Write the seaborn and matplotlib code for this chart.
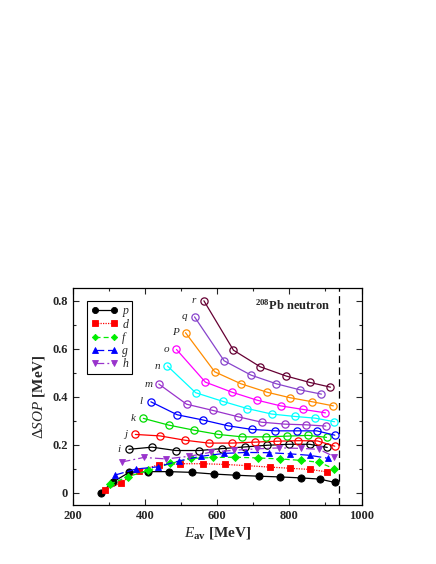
import numpy as np
import pandas as pd
import matplotlib
matplotlib.use("Agg")
import matplotlib.pyplot as plt
from matplotlib.ticker import MultipleLocator
import seaborn as sns

# ---------------- data ----------------
p_E = [277, 312, 356, 409, 467, 529, 590, 653, 715, 774, 831, 884, 926]
p_V = [0.0, 0.046, 0.085, 0.088, 0.088, 0.085, 0.078, 0.073, 0.069, 0.066, 0.062, 0.057, 0.043]

d_E = [289, 333, 383, 438, 497, 560, 621, 683, 745, 803, 858, 905]
d_V = [0.011, 0.042, 0.092, 0.117, 0.121, 0.121, 0.118, 0.113, 0.107, 0.102, 0.097, 0.087]

f_E = [303, 352, 409, 469, 528, 588, 650, 714, 774, 832, 883, 925]
f_V = [0.036, 0.067, 0.093, 0.122, 0.143, 0.147, 0.148, 0.145, 0.141, 0.135, 0.127, 0.099]

g_E = [317, 375, 435, 495, 555, 619, 680, 743, 803, 856, 906]
g_V = [0.074, 0.099, 0.108, 0.133, 0.152, 0.164, 0.168, 0.167, 0.162, 0.156, 0.144]

h_E = [335, 396, 459, 522, 583, 646, 710, 772, 831, 882, 925]
h_V = [0.128, 0.147, 0.141, 0.152, 0.169, 0.177, 0.183, 0.187, 0.185, 0.181, 0.150]

i_E = [355, 419, 485, 550, 613, 677, 739, 799, 856, 905]
i_V = [0.181, 0.190, 0.176, 0.176, 0.184, 0.191, 0.198, 0.202, 0.202, 0.189]

j_E = [373, 441, 510, 576, 641, 705, 767, 824, 878, 926]
j_V = [0.243, 0.237, 0.219, 0.207, 0.207, 0.211, 0.215, 0.217, 0.216, 0.194]

k_E = [395, 465, 535, 603, 669, 734, 794, 852, 903]
k_V = [0.310, 0.282, 0.261, 0.243, 0.233, 0.233, 0.236, 0.239, 0.231]

l_E = [416, 489, 561, 630, 696, 761, 821, 876, 926]
l_V = [0.379, 0.325, 0.303, 0.279, 0.264, 0.258, 0.258, 0.258, 0.240]

m_E = [438, 515, 588, 657, 723, 787, 847, 901]
m_V = [0.453, 0.369, 0.343, 0.317, 0.294, 0.286, 0.283, 0.278]

n_E = [462, 540, 615, 683, 751, 815, 871, 925]
n_V = [0.528, 0.417, 0.381, 0.351, 0.328, 0.318, 0.311, 0.296]

o_E = [487, 567, 641, 710, 776, 839, 900]
o_V = [0.597, 0.461, 0.419, 0.386, 0.362, 0.347, 0.333]

P_E = [512, 593, 666, 738, 802, 864, 922]
P_V = [0.667, 0.504, 0.454, 0.419, 0.396, 0.379, 0.362]

q_E = [537, 619, 694, 764, 829, 889]
q_V = [0.733, 0.550, 0.490, 0.454, 0.429, 0.411]

r_E = [563, 645, 719, 792, 856, 914]
r_V = [0.800, 0.594, 0.525, 0.486, 0.460, 0.440]

filled_names = ["p", "d", "f", "g", "h"]
open_names = ["i", "j", "k", "l", "m", "n", "o", "P", "q", "r"]
threshold_E = 938
x_ticks = [200, 400, 600, 800, 1000]
y_ticks = [0, 0.2, 0.4, 0.6, 0.8]
y_tick_labels = ["0", "0.2", "0.4", "0.6", "0.8"]

series = {
    "p": (p_E, p_V), "d": (d_E, d_V), "f": (f_E, f_V), "g": (g_E, g_V), "h": (h_E, h_V),
    "i": (i_E, i_V), "j": (j_E, j_V), "k": (k_E, k_V), "l": (l_E, l_V), "m": (m_E, m_V),
    "n": (n_E, n_V), "o": (o_E, o_V), "P": (P_E, P_V), "q": (q_E, q_V), "r": (r_E, r_V),
}

# ---------------- styles ----------------
filled_style = {
    "p": dict(color="#000000", marker="o", ls="-", ms=5.2),
    "d": dict(color="#ff0000", marker="s", ls=(0, (1, 1)), ms=4.4),
    "f": dict(color="#00ee00", marker="D", ls=(0, (4, 2.5)), ms=3.8),
    "g": dict(color="#0000ff", marker="^", ls=(0, (7, 3)), ms=5.0),
    "h": dict(color="#9933cc", marker="v", ls=(0, (7, 2.5, 1.5, 2.5)), ms=5.0),
}
open_colors = {
    "i": "#000000", "j": "#ff0000", "k": "#00dd00", "l": "#0000ff", "m": "#9933cc",
    "n": "#00ffff", "o": "#ff00ff", "P": "#ff8c00", "q": "#8844cc", "r": "#660033",
}

sns.set_style("ticks")
plt.rcParams["font.family"] = ["Liberation Serif", "DejaVu Serif"]
plt.rcParams["mathtext.fontset"] = "custom"
plt.rcParams["mathtext.rm"] = "Liberation Serif"
plt.rcParams["mathtext.it"] = "Liberation Serif:italic"
plt.rcParams["mathtext.bf"] = "Liberation Serif:bold"

fig = plt.figure(figsize=(4.36, 5.64), dpi=100)
ax = fig.add_axes([73 / 436, 1 - 505 / 564, (361.5 - 73) / 436, (505 - 288.3) / 564])

handles = []
for name in filled_names:
    E, V = series[name]
    st = filled_style[name]
    df = pd.DataFrame({"E": E, "V": V})
    n_before = len(ax.lines)
    sns.lineplot(data=df, x="E", y="V", ax=ax, color=st["color"], linestyle=st["ls"],
                 linewidth=0.9, marker=st["marker"], markersize=st["ms"],
                 markerfacecolor=st["color"], markeredgecolor=st["color"],
                 markeredgewidth=0.6, legend=False, zorder=4)
    handles.append(ax.lines[n_before])

for name in open_names:
    E, V = series[name]
    c = open_colors[name]
    df = pd.DataFrame({"E": E, "V": V})
    sns.lineplot(data=df, x="E", y="V", ax=ax, color=c, linestyle="-", linewidth=0.9,
                 marker="o", markersize=5.2, markerfacecolor="none",
                 markeredgecolor=c, markeredgewidth=0.9, legend=False, zorder=3)
    ax.annotate(name, xy=(E[0], V[0]), xytext=(-10, 0), textcoords="offset pixels",
                ha="center", va="center", fontsize=8, fontstyle="italic")

ax.axvline(threshold_E, color="black", linestyle=(0, (6, 3.5)), linewidth=0.9, zorder=2)

ax.set_xlim(200, 1000)
ax.set_ylim(-0.051, 0.852)
ax.set_xticks(x_ticks)
ax.set_yticks(y_ticks)
ax.set_yticklabels(y_tick_labels)
ax.xaxis.set_minor_locator(MultipleLocator(100))
ax.yaxis.set_minor_locator(MultipleLocator(0.1))
ax.tick_params(which="both", direction="in", top=True, right=True, width=0.8)
ax.tick_params(which="major", length=4, labelsize=9)
ax.tick_params(which="minor", length=2.5)
for lab in ax.get_xticklabels() + ax.get_yticklabels():
    lab.set_fontweight("bold")
for sp in ax.spines.values():
    sp.set_linewidth(0.9)
    sp.set_color("black")

ax.set_xlabel(r"$\mathit{E}_{\mathbf{av}}$ [MeV]", fontsize=11, fontweight="bold", labelpad=2)
ax.set_ylabel(r"$\Delta\mathit{SOP}$ [MeV]", fontsize=11, fontweight="bold", labelpad=4)

ax.text(0.63, 0.92, r"$^{\mathbf{208}}$Pb neutron", transform=ax.transAxes,
        fontsize=9, fontweight="bold", ha="left", va="center")

leg = ax.legend(handles, filled_names, loc="upper left", bbox_to_anchor=(0.05, 0.94),
                numpoints=2, handlelength=2.2, handletextpad=0.4, labelspacing=0.1,
                borderpad=0.35, borderaxespad=0.0, fancybox=False, edgecolor="black",
                framealpha=1, markerscale=0.85,
                prop={"family": "Liberation Serif", "style": "italic", "size": 8.5})
leg.get_frame().set_linewidth(0.8)

fig.savefig("out.png", dpi=100)
